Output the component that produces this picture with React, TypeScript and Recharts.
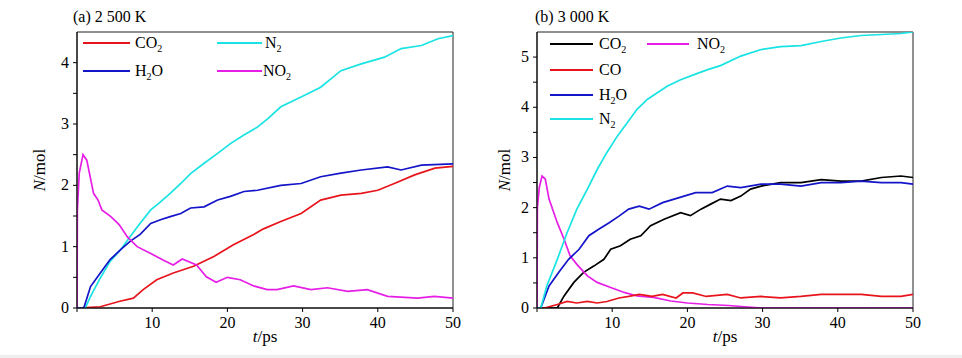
import React from "react";
import { LineChart, Line, XAxis, YAxis, ReferenceArea } from "recharts";

// (a) 2 500 K
const tCO2a = [0, 3.1, 5.7, 7.5, 8.8, 10.6, 12.8, 15.5, 18.2, 20.8, 23.5, 24.8, 27.1, 29.8, 32.4, 35.1, 37.8, 40, 42.2, 44.9, 47.6, 50];
const nCO2a = [0, 0.02, 0.11, 0.16, 0.3, 0.46, 0.57, 0.68, 0.84, 1.03, 1.2, 1.29, 1.41, 1.54, 1.76, 1.84, 1.87, 1.92, 2.03, 2.17, 2.28, 2.31];
const tH2Oa = [0, 0.9, 1.8, 3.1, 4.4, 5.8, 7.1, 8.4, 9.8, 11.1, 12.4, 13.8, 15.1, 16.9, 18.7, 20.4, 22.2, 24, 27.1, 29.8, 32.4, 35.1, 37.8, 41.3, 43.1, 45.8, 50];
const nH2Oa = [0, 0, 0.35, 0.57, 0.79, 0.95, 1.09, 1.2, 1.38, 1.44, 1.49, 1.54, 1.63, 1.65, 1.76, 1.82, 1.9, 1.92, 2.0, 2.03, 2.14, 2.2, 2.25, 2.3, 2.25, 2.33, 2.35];
const tN2a = [0, 1.1, 1.8, 3.1, 4.4, 5.8, 7.1, 8.4, 9.8, 11.1, 12.4, 13.8, 15.1, 16.9, 18.7, 20.4, 22.2, 24, 25.5, 27.1, 29.8, 32.4, 35.1, 37.8, 40.9, 43.1, 45.8, 48, 50];
const nN2a = [0, 0, 0.19, 0.49, 0.76, 0.95, 1.17, 1.38, 1.6, 1.73, 1.87, 2.03, 2.19, 2.36, 2.52, 2.68, 2.82, 2.95, 3.1, 3.28, 3.44, 3.6, 3.87, 3.98, 4.09, 4.23, 4.28, 4.39, 4.44];
const tNO2a = [0, 0.05, 0.3, 0.8, 1.3, 2.2, 2.8, 3.3, 4.5, 5.6, 6.7, 8.0, 9.8, 11.5, 12.8, 14.0, 15.9, 17.2, 18.5, 20, 21.7, 23.5, 25.3, 26.6, 28.8, 31.1, 33.3, 36, 38.6, 41.3, 45.3, 47.5, 50];
const nNO2a = [0, 1.6, 2.2, 2.5, 2.41, 1.87, 1.76, 1.6, 1.49, 1.36, 1.16, 1.0, 0.89, 0.78, 0.7, 0.8, 0.7, 0.51, 0.42, 0.5, 0.46, 0.36, 0.3, 0.3, 0.36, 0.3, 0.33, 0.27, 0.3, 0.19, 0.16, 0.19, 0.16];

// (b) 3 000 K
const tCO2b = [0, 2.7, 3.6, 4.9, 6.2, 7.6, 8.9, 9.8, 11.1, 12.4, 13.8, 15.1, 16.9, 19.1, 20.4, 21.8, 23.1, 24.4, 25.8, 27.1, 28.4, 29.8, 32.4, 35.1, 37.8, 40.4, 43.1, 45.8, 48.4, 50];
const nCO2b = [0, 0, 0.24, 0.51, 0.71, 0.84, 0.97, 1.17, 1.24, 1.37, 1.44, 1.64, 1.77, 1.9, 1.84, 1.97, 2.07, 2.17, 2.14, 2.23, 2.37, 2.43, 2.5, 2.5, 2.56, 2.53, 2.53, 2.6, 2.63, 2.6];
const tCOb = [0, 1, 2.7, 4, 5.3, 6.7, 8, 9.3, 10.9, 12.2, 13.6, 15.3, 16.7, 18.5, 19.4, 20.7, 22.5, 25.3, 27.1, 29.8, 32.4, 35.1, 37.8, 40.4, 43.1, 45.8, 48.4, 50];
const nCOb = [0, 0, 0.07, 0.13, 0.1, 0.13, 0.1, 0.13, 0.2, 0.23, 0.27, 0.23, 0.27, 0.2, 0.3, 0.3, 0.23, 0.27, 0.2, 0.23, 0.2, 0.23, 0.27, 0.27, 0.27, 0.23, 0.23, 0.27];
const tH2Ob = [0, 0.5, 1.6, 2.9, 4.2, 5.6, 6.9, 8.2, 9.6, 10.9, 12.2, 13.6, 14.9, 16.7, 18.9, 21.1, 23.3, 25.3, 27.1, 29.8, 32.4, 35.1, 37.8, 40.4, 43.1, 45.8, 48.4, 50];
const nH2Ob = [0, 0, 0.44, 0.71, 0.97, 1.17, 1.44, 1.57, 1.7, 1.83, 1.97, 2.03, 1.97, 2.1, 2.2, 2.3, 2.3, 2.43, 2.4, 2.47, 2.47, 2.43, 2.5, 2.5, 2.53, 2.5, 2.5, 2.47];
const tN2b = [0, 0.5, 1.3, 2.7, 4, 5.3, 6.7, 8, 9.3, 10.7, 12, 13.3, 14.7, 16, 17.3, 19.1, 20.9, 22.7, 24.4, 27.1, 29.8, 32.4, 35.1, 37.8, 40.4, 43.1, 45.8, 48.4, 50];
const nN2b = [0, 0, 0.44, 0.97, 1.5, 1.97, 2.37, 2.76, 3.1, 3.43, 3.69, 3.96, 4.16, 4.29, 4.42, 4.55, 4.65, 4.75, 4.83, 5.02, 5.15, 5.21, 5.23, 5.31, 5.38, 5.43, 5.45, 5.47, 5.5];
const tNO2b = [0, 0.05, 0.3, 0.67, 1.1, 1.6, 2.7, 3.6, 4.4, 5.3, 6.7, 8, 9.8, 11.6, 13.3, 15.5, 17.8, 20, 22.7, 25.5, 28, 30, 50];
const nNO2b = [0, 2.0, 2.4, 2.63, 2.57, 2.17, 1.7, 1.37, 1.04, 0.87, 0.64, 0.51, 0.41, 0.31, 0.24, 0.21, 0.14, 0.1, 0.07, 0.05, 0.02, 0, 0];

const xTicks = [0, 10, 20, 30, 40, 50];
const yTicksA = [0, 0.5, 1, 1.5, 2, 2.5, 3, 3.5, 4];
const yTicksB = [0, 0.5, 1, 1.5, 2, 2.5, 3, 3.5, 4, 4.5, 5];

const RED = "#e8141c";
const BLUE = "#1414c8";
const CYAN = "#19e3e3";
const MAGENTA = "#e61ee6";
const BLACK = "#000";
const FONT = "Liberation Serif, DejaVu Serif, serif";

const pts = (t: number[], n: number[]) => t.map((x, i) => ({ t: x, n: n[i] }));

type Series = { name: string; sub?: string; tail?: string; color: string; t: number[]; n: number[] };

const seriesA: Series[] = [
  { name: "CO", sub: "2", color: RED, t: tCO2a, n: nCO2a },
  { name: "N", sub: "2", color: CYAN, t: tN2a, n: nN2a },
  { name: "H", sub: "2", tail: "O", color: BLUE, t: tH2Oa, n: nH2Oa },
  { name: "NO", sub: "2", color: MAGENTA, t: tNO2a, n: nNO2a },
];

const seriesB: Series[] = [
  { name: "CO", sub: "2", color: BLACK, t: tCO2b, n: nCO2b },
  { name: "NO", sub: "2", color: MAGENTA, t: tNO2b, n: nNO2b },
  { name: "CO", color: RED, t: tCOb, n: nCOb },
  { name: "H", sub: "2", tail: "O", color: BLUE, t: tH2Ob, n: nH2Ob },
  { name: "N", sub: "2", color: CYAN, t: tN2b, n: nN2b },
];

function XTick(props: any) {
  const { x, y, payload } = props;
  const v = payload.value;
  if (v === 0) return null;
  return (
    <text x={x} y={y + 14} textAnchor="middle" fontFamily={FONT} fontSize={16} fill="#000">
      {v}
    </text>
  );
}

function YTick(props: any) {
  const { x, y, payload } = props;
  const v = payload.value;
  if (!Number.isInteger(v)) return null;
  return (
    <text x={x - 2} y={y + 5} textAnchor="end" fontFamily={FONT} fontSize={16} fill="#000">
      {v}
    </text>
  );
}

function Label({ s }: { s: Series }) {
  return (
    <span style={{ fontFamily: FONT, fontSize: 16, color: "#000", whiteSpace: "nowrap" }}>
      {s.name}
      {s.sub && <span style={{ fontSize: 10, position: "relative", top: 4 }}>{s.sub}</span>}
      {s.tail}
    </span>
  );
}

function LegendItem({ s, x, y, len, gap }: { s: Series; x: number; y: number; len: number; gap: number }) {
  return (
    <div style={{ position: "absolute", left: x, top: y - 11, height: 22, display: "flex", alignItems: "center" }}>
      <div style={{ width: len, height: 2, background: s.color, marginRight: gap }} />
      <Label s={s} />
    </div>
  );
}

function Panel({
  left, right, ymax, yTicks, series,
}: { left: number; right: number; ymax: number; yTicks: number[]; series: Series[] }) {
  return (
    <div style={{ position: "absolute", left: 0, top: 0 }}>
      <LineChart width={480} height={358} margin={{ top: 32, right, bottom: 20, left: 0 }}>
        <XAxis
          dataKey="t"
          type="number"
          domain={[0, 50]}
          ticks={xTicks}
          tick={<XTick />}
          tickSize={4}
          height={30}
          axisLine={{ stroke: "#000" }}
          tickLine={{ stroke: "#000" }}
          allowDataOverflow
        />
        <YAxis
          type="number"
          domain={[0, ymax]}
          ticks={yTicks}
          tick={<YTick />}
          tickSize={4}
          width={left}
          axisLine={{ stroke: "#000" }}
          tickLine={{ stroke: "#000" }}
          allowDataOverflow
        />
        <ReferenceArea x1={0} x2={50} y1={0} y2={ymax} fill="none" stroke="#222" strokeWidth={1} />
        {series.map((s, i) => (
          <Line
            key={i}
            data={pts(s.t, s.n)}
            dataKey="n"
            type="linear"
            stroke={s.color}
            strokeWidth={1.7}
            dot={false}
            isAnimationActive={false}
          />
        ))}
      </LineChart>
    </div>
  );
}

export default function App() {
  const txt: React.CSSProperties = { position: "absolute", fontFamily: FONT, color: "#000", whiteSpace: "nowrap" };
  return (
    <div style={{ position: "fixed", left: 0, top: 0, width: 962, height: 358, background: "#fff", overflow: "hidden" }}>
      <div style={{ position: "absolute", left: 0, top: 0, width: 480, height: 358 }}>
        <Panel left={77} right={27} ymax={4.5} yTicks={yTicksA} series={seriesA} />
        <div style={{ ...txt, left: 73, top: 8, fontSize: 16 }}>(a) 2 500 K</div>
        <div style={{ ...txt, left: 40, top: 170, fontSize: 17, transform: "translate(-50%, -50%) rotate(-90deg)" }}>
          <i>N</i>/mol
        </div>
        <div style={{ ...txt, left: 265, top: 337, fontSize: 17, transform: "translate(-50%, -50%)" }}>
          <i>t</i>/ps
        </div>
        <LegendItem s={seriesA[0]} x={83} y={43} len={47} gap={5} />
        <LegendItem s={seriesA[1]} x={217} y={43} len={45} gap={3} />
        <LegendItem s={seriesA[2]} x={83} y={71} len={47} gap={5} />
        <LegendItem s={seriesA[3]} x={217} y={71} len={45} gap={1} />
      </div>
      <div style={{ position: "absolute", left: 480, top: 0, width: 482, height: 358 }}>
        <Panel left={57} right={47} ymax={5.5} yTicks={yTicksB} series={seriesB} />
        <div style={{ ...txt, left: 55, top: 8, fontSize: 16 }}>(b) 3 000 K</div>
        <div style={{ ...txt, left: 25, top: 170, fontSize: 17, transform: "translate(-50%, -50%) rotate(-90deg)" }}>
          <i>N</i>/mol
        </div>
        <div style={{ ...txt, left: 245, top: 337, fontSize: 17, transform: "translate(-50%, -50%)" }}>
          <i>t</i>/ps
        </div>
        <LegendItem s={seriesB[0]} x={70} y={44} len={43} gap={6} />
        <LegendItem s={seriesB[1]} x={167} y={44} len={42} gap={8} />
        <LegendItem s={seriesB[2]} x={70} y={70} len={43} gap={6} />
        <LegendItem s={seriesB[3]} x={70} y={95} len={43} gap={6} />
        <LegendItem s={seriesB[4]} x={70} y={119} len={43} gap={6} />
      </div>
      <div style={{ position: "absolute", left: 0, top: 355, width: 962, height: 3, background: "#eee" }} />
    </div>
  );
}
